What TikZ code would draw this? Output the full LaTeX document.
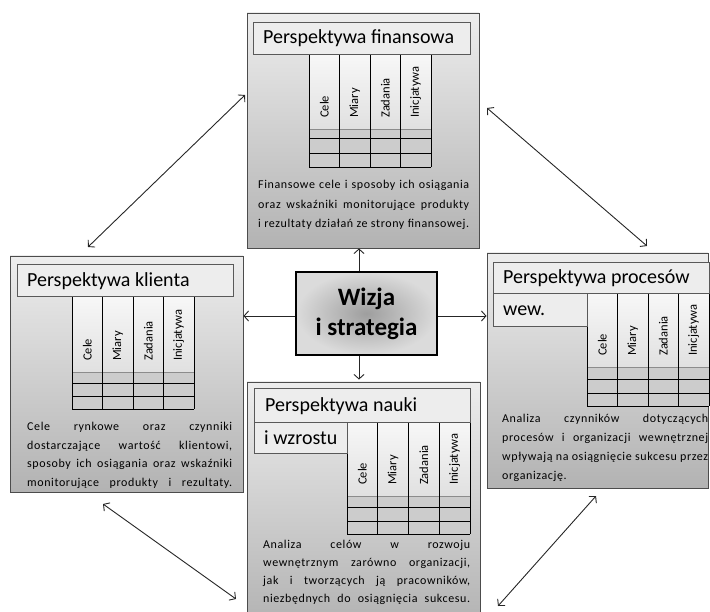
\documentclass[tikz,border=0pt]{standalone}
\usepackage{fontspec}
\setmainfont{Carlito}
\newfontfamily\bodyf[LetterSpace=5]{Carlito}
\usetikzlibrary{arrows.meta,shadows}

\tikzset{
  outerbox/.style={draw=black!70, line width=0.9pt, top color=black!7, bottom color=black!30,
    inner sep=0pt, drop shadow={shadow xshift=1.3pt, shadow yshift=-1.3pt, fill=black!70, opacity=0.5}},
  titlebox/.style={draw=black!65, line width=0.8pt, fill=black!7, inner sep=0pt},
  titletext/.style={anchor=west, inner sep=0pt, font=\fontsize{20}{22}\selectfont},
  colhead/.style={rotate=90, anchor=west, inner sep=0pt, font=\fontsize{12.5}{14}\selectfont},
  bodytext/.style={anchor=base west, inner sep=0pt},
  centerbox/.style={draw=black, line width=1.8pt, inner color=black!38, outer color=black!14,
    inner sep=0pt, align=center, font=\bfseries\fontsize{25}{30}\selectfont},
  arr/.style={draw=black!85, line width=0.9pt, -{Straight Barb[length=4.5pt,width=10pt]}},
  darr/.style={draw=black!85, line width=0.9pt, {Straight Barb[length=4.5pt,width=10pt]}-{Straight Barb[length=4.5pt,width=10pt]}}
}

% #1 prefix, #2 x0, #3 x1, #4 ytop, #5 yheader, #6 r1, #7 r2, #8 r3
\newcommand\ptable[8]{%
  \pgfmathsetmacro\tw{(#3-#2)/4}
  \shade[top color=black!3, bottom color=black!12] (#2,#4) rectangle (#3,#5);
  \fill[black!20] (#2,#5) rectangle (#3,#8);
  \draw[black!45, line width=0.6pt] (#2,#5) -- (#3,#5);
  \foreach \yy in {#6,#7,#8} \draw[line width=0.8pt] (#2,\yy) -- (#3,\yy);
  \foreach \k in {0,...,4} \draw[line width=0.8pt] ({#2+\k*\tw},#4) -- ({#2+\k*\tw},#8);
  \foreach \lab [count=\k] in {Cele,Miary,Zadania,Inicjatywa}
    \node[colhead] (#1h\k) at ({#2+(\k-0.5)*\tw},{#5-11}) {\lab};
}
\newcommand\jl[2]{\makebox[#1pt][s]{#2}}

\begin{document}
\begin{tikzpicture}[x=1pt,y=-1pt]
\useasboundingbox (0,0) rectangle (710,612);
\clip (0,0) rectangle (710,612);

% ---------- outer boxes ----------
\node[outerbox, minimum width=232pt, minimum height=235pt] (fin) at (363,130.5) {};
\node[outerbox, minimum width=233pt, minimum height=236pt] (kl) at (126.5,374) {};
\node[outerbox, minimum width=221pt, minimum height=235pt] (pr) at (597.5,370.5) {};
\node[outerbox, minimum width=233pt, minimum height=243pt] (na) at (363.5,503.5) {};

% ---------- tables ----------
\ptable{f}{309}{431}{54}{129}{138}{153}{167}
\ptable{k}{72}{194}{296}{372}{383}{396}{409}
\ptable{p}{587}{709}{293}{367}{379}{393}{406}
\ptable{n}{347}{470}{422}{496}{507}{521}{534}

% ---------- title boxes ----------
\node[titlebox, minimum width=217pt, minimum height=32pt] (ft) at (361.5,38) {};
\node[titletext] (ftx) at (263,38) {Perspektywa finansowa};

\node[titlebox, minimum width=216pt, minimum height=32pt] (kt) at (125,280) {};
\node[titletext] (ktx) at (27,281) {Perspektywa klienta};

\node[titlebox, minimum width=216pt, minimum height=31pt] (pt) at (601,277.5) {};
\node[titlebox, minimum width=94pt, minimum height=33pt] (pt2) at (540,309.5) {};
\node[titletext] (ptx) at (503,278) {Perspektywa procesów};
\node[titletext] (ptx2) at (503,311) {wew.};

\node[titlebox, minimum width=216pt, minimum height=34pt] (nt) at (362,405) {};
\node[titlebox, minimum width=93pt, minimum height=31pt] (nt2) at (300.5,437.5) {};
\node[titletext] (ntx) at (265,406) {Perspektywa nauki};
\node[titletext] (ntx2) at (264,438) {i wzrostu};

% ---------- body texts ----------
\node[bodytext, text width=211pt, font=\bodyf\fontsize{12}{19.5}\selectfont] (fp) at (258,189) {%
\spaceskip=0pt\xspaceskip=0pt\parindent=0pt
\jl{211}{Finansowe cele i sposoby ich osiągania}\\
\jl{211}{oraz wskaźniki monitorujące produkty}\\
\jl{211}{i rezultaty działań ze strony finansowej.}};

\node[bodytext, text width=205pt, font=\bodyf\fontsize{12}{18.4}\selectfont] (kp) at (27,431) {%
\spaceskip=0pt\xspaceskip=0pt\parindent=0pt
\jl{205}{Cele rynkowe oraz czynniki}\\
\jl{205}{dostarczające wartość klientowi,}\\
\jl{205}{sposoby ich osiągania oraz wskaźniki}\\
\jl{205}{monitorujące produkty i rezultaty.}};

\node[bodytext, text width=206pt, font=\bodyf\fontsize{12}{19.3}\selectfont] (pp) at (502,422) {%
\spaceskip=0pt\xspaceskip=0pt\parindent=0pt
\jl{206}{Analiza czynników dotyczących}\\
\jl{206}{procesów i organizacji wewnętrznej}\\
\jl{206}{wpływają na osiągnięcie sukcesu przez}\\
organizację.};

\node[bodytext, text width=207pt, font=\bodyf\fontsize{12}{18}\selectfont] (np) at (263,548) {%
\spaceskip=0pt\xspaceskip=0pt\parindent=0pt
\jl{207}{Analiza celów w rozwoju}\\
\jl{207}{wewnętrznym zarówno organizacji,}\\
\jl{207}{jak i tworzących ją pracowników,}\\
\jl{207}{niezbędnych do osiągnięcia sukcesu.}};

% ---------- center ----------
\node[centerbox, minimum width=141pt, minimum height=83pt] (c) at (366.5,313.5) {Wizja\\i strategia};

% ---------- connectors ----------
\coordinate (vx) at (359,0);
\coordinate (hy) at (0,316);
\draw[arr] (c.north -| vx) -- (fin.south -| vx);
\draw[arr, shorten >=2pt] (c.south -| vx) -- (na.north -| vx);
\draw[arr] (c.west |- hy) -- (kl.east |- hy);
\draw[arr] (c.east |- hy) -- (pr.west |- hy);

\coordinate (tl1) at (245,95);
\coordinate (tl2) at (88,247);
\coordinate (tr1) at (487,108);
\coordinate (tr2) at (647,246);
\coordinate (bl1) at (103,504);
\coordinate (bl2) at (236,599);
\coordinate (br1) at (596,496);
\coordinate (br2) at (498,606);
\draw[darr] (tl1) -- (tl2);
\draw[darr] (tr1) -- (tr2);
\draw[darr] (bl1) -- (bl2);
\draw[darr] (br1) -- (br2);
\end{tikzpicture}
\end{document}
